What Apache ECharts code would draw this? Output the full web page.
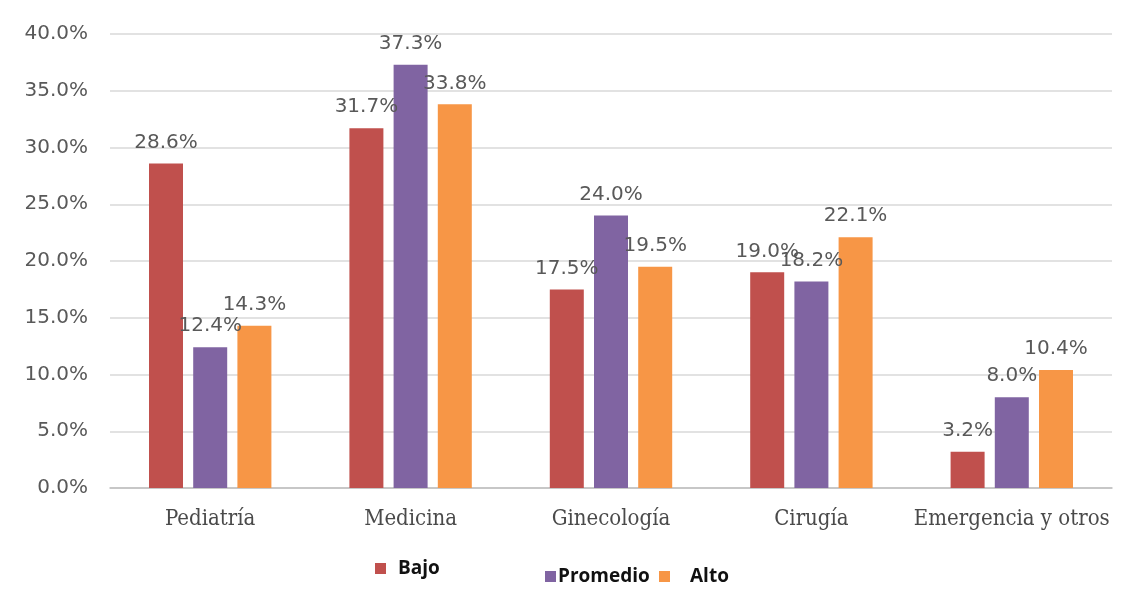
<!DOCTYPE html>
<html><head><meta charset="utf-8">
<script src="https://cdn.jsdelivr.net/npm/echarts@6/dist/echarts.min.js"></script>
<style>html,body{margin:0;padding:0;background:#fff}#c{width:1128px;height:601px}</style>
</head><body><div id="c"></div>
<script>
const categories = ['Pediatría', 'Medicina', 'Ginecología', 'Cirugía', 'Emergencia y otros'];
const bajo = [28.6, 31.7, 17.5, 19.0, 3.2];
const promedio = [12.4, 37.3, 24.0, 18.2, 8.0];
const alto = [14.3, 33.8, 19.5, 22.1, 10.4];
const seriesNames = ['Bajo', 'Promedio', 'Alto'];
const colors = ['#C0504D', '#8064A2', '#F79646'];

const chart = echarts.init(document.getElementById('c'));
const lbl = {
  show: true, position: 'top', distance: 11,
  color: '#595959', fontSize: 20, fontFamily: 'DejaVu Sans',
  formatter: p => p.value.toFixed(1) + '%'
};
function mk(name, data, color) {
  return { name, type: 'bar', data, barWidth: 34, barGap: '30%',
    itemStyle: { color }, label: lbl };
}
const legText = { color: '#111', fontSize: 19, fontWeight: 'bold', fontFamily: 'Open Sans' };
chart.setOption({
  animation: false,
  grid: { left: 110, right: 16, top: 34, bottom: 113 },
  legend: [
    { data: ['Bajo'], left: 370, top: 554, itemWidth: 11, itemHeight: 11, textStyle: Object.assign({padding:[0,0,0,7]}, legText), icon: 'rect' },
    { data: ['Promedio'], left: 540, top: 562, itemWidth: 11, itemHeight: 11, textStyle: Object.assign({padding:[0,0,0,-3]}, legText), icon: 'rect' },
    { data: ['Alto'], left: 654, top: 562, itemWidth: 11, itemHeight: 11, textStyle: Object.assign({padding:[4,0,0,15]}, legText), icon: 'rect' }
  ],
  xAxis: {
    type: 'category', data: categories,
    axisLine: { lineStyle: { color: '#bfbfbf', width: 1.5 } },
    axisTick: { show: false },
    axisLabel: { interval: 0, color: '#4a4a4a', fontSize: 22, fontFamily: 'DejaVu Serif Condensed, Liberation Serif', margin: 20 }
  },
  yAxis: {
    type: 'value', min: 0, max: 40, interval: 5,
    axisLine: { show: false }, axisTick: { show: false },
    splitLine: { lineStyle: { color: '#d9d9d9', width: 1.5 } },
    axisLabel: { color: '#595959', fontSize: 20, fontFamily: 'DejaVu Sans', margin: 22,
      formatter: v => v.toFixed(1) + '%' }
  },
  series: [mk(seriesNames[0], bajo, colors[0]), mk(seriesNames[1], promedio, colors[1]), mk(seriesNames[2], alto, colors[2])]
});
</script></body></html>
